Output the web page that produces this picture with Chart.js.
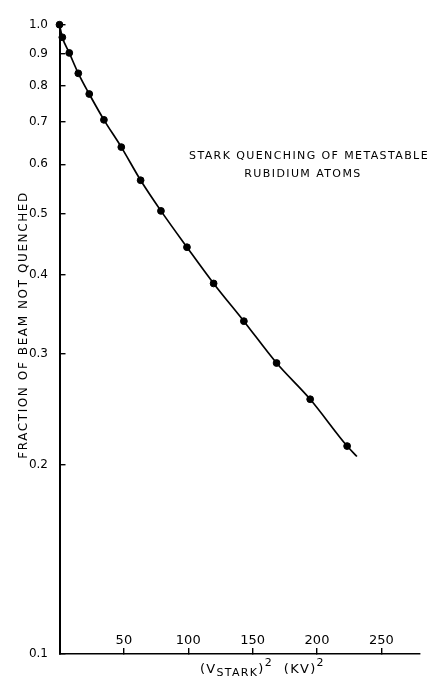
<!DOCTYPE html>
<html>
<head>
<meta charset="utf-8">
<script src="https://cdn.jsdelivr.net/npm/chart.js@4/dist/chart.umd.min.js"></script>
<style>
  html, body { margin: 0; padding: 0; background: #fff; }
  #wrap { width: 437px; height: 679px; }
</style>
</head>
<body>
<div id="wrap"><canvas id="c" width="437" height="679"></canvas></div>
<script>
// Measured beam fraction versus squared Stark voltage
const voltSq = [0, 2.2, 7.6, 14.6, 23.1, 34.5, 48.0, 63.0, 78.8, 99.0, 119.7, 143.2, 168.6, 194.7, 223.4];
const fraction = [1.0, 0.955, 0.902, 0.837, 0.776, 0.706, 0.639, 0.566, 0.506, 0.443, 0.388, 0.338, 0.290, 0.254, 0.214];

// Smooth curve through the measurements, carried a little past the last point
const curveEndX = 231;
const curveEndY = 0.206;

const xTicks = [50, 100, 150, 200, 250];
const yTicks = [0.1, 0.2, 0.3, 0.4, 0.5, 0.6, 0.7, 0.8, 0.9, 1.0];

const titleLines = ['STARK QUENCHING OF METASTABLE', 'RUBIDIUM ATOMS'];
const yAxisLabel = 'FRACTION OF BEAM NOT QUENCHED';

const ink = '#000';
const FONT = '"DejaVu Sans", "Liberation Sans", sans-serif';

const points = voltSq.map((x, i) => ({ x: x, y: fraction[i] }));
const curve = points.concat([{ x: curveEndX, y: curveEndY }]);

// Caption, rotated y-axis label and the x-axis label with sub/superscripts
const annotate = {
  id: 'annotate',
  afterDraw(chart) {
    const ctx = chart.ctx;
    ctx.save();
    ctx.fillStyle = ink;
    ctx.textBaseline = 'alphabetic';
    ctx.textAlign = 'center';
    ctx.font = '11px ' + FONT;
    ctx.letterSpacing = '1.4px';
    ctx.fillText(titleLines[0], 309, 159);
    ctx.fillText(titleLines[1], 303, 177);

    // vertical axis label
    ctx.save();
    ctx.translate(27, 325);
    ctx.rotate(-Math.PI / 2);
    ctx.font = '12px ' + FONT;
    ctx.letterSpacing = '1.6px';
    ctx.fillText(yAxisLabel, 0, 0);
    ctx.restore();

    // (V_STARK)^2 (KV)^2
    ctx.textAlign = 'left';
    let x = 200;
    const base = 673;
    const put = (t, size, dy) => {
      ctx.font = size + 'px ' + FONT;
      ctx.fillText(t, x, base + dy);
      x += ctx.measureText(t).width;
    };
    ctx.letterSpacing = '1.3px';
    put('(V', 13, 0);
    put('STARK', 11, 3);
    put(')', 13, 0);
    put('2', 11, -7);
    put('  (KV)', 13, 0);
    put('2', 11, -7);
    ctx.restore();
  }
};

new Chart(document.getElementById('c'), {
  type: 'scatter',
  data: {
    datasets: [
      {
        type: 'line',
        data: curve,
        borderColor: ink,
        borderWidth: 1.7,
        pointRadius: 0,
        fill: false,
        cubicInterpolationMode: 'monotone',
        clip: false
      },
      {
        data: points,
        backgroundColor: ink,
        borderColor: ink,
        pointRadius: 3.4,
        clip: false
      }
    ]
  },
  plugins: [annotate],
  options: {
    responsive: false,
    animation: false,
    events: [],
    layout: { padding: { top: 20, right: 17, left: 0, bottom: 0 } },
    plugins: {
      legend: { display: false },
      tooltip: { enabled: false }
    },
    scales: {
      x: {
        type: 'linear',
        min: 0,
        max: 280,
        afterBuildTicks: s => { s.ticks = xTicks.map(v => ({ value: v })); },
        afterFit: s => { s.height = 25; },
        grid: { drawOnChartArea: false, drawTicks: true, tickLength: -6, color: ink, lineWidth: 1.4 },
        border: { display: true, color: ink, width: 1.6 },
        ticks: {
          mirror: true,
          padding: 6,
          color: ink,
          font: { family: FONT, size: 13 },
          maxRotation: 0,
          callback: v => String(v)
        },
        title: { display: false }
      },
      y: {
        type: 'logarithmic',
        min: 0.1,
        max: 1.0,
        afterBuildTicks: s => { s.ticks = yTicks.map(v => ({ value: v })); },
        afterFit: s => { s.width = 59.5; },
        grid: { drawOnChartArea: false, drawTicks: true, tickLength: -6, color: ink, lineWidth: 1.4 },
        border: { display: true, color: ink, width: 2 },
        ticks: {
          padding: 17.5,
          color: ink,
          font: { family: FONT, size: 12 },
          callback: v => Number(v).toFixed(1)
        },
        title: { display: false }
      }
    }
  }
});
</script>
</body>
</html>
